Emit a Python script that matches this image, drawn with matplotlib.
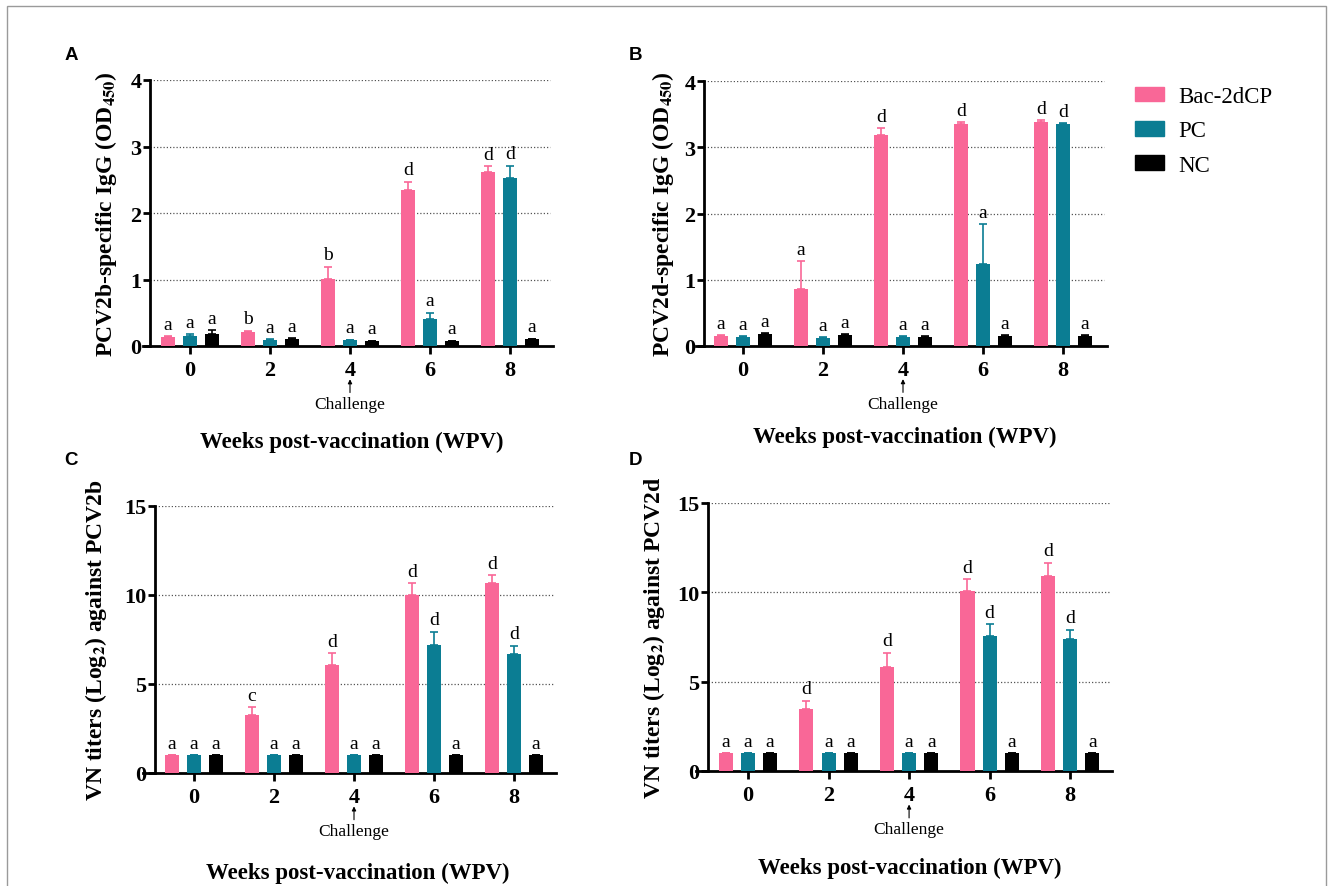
# ---- Antibody responses after vaccination: IgG (OD450) and VN titers
import numpy as np
import matplotlib
matplotlib.use("Agg")
import matplotlib.pyplot as plt
import matplotlib.transforms as mtransforms
from matplotlib.patches import Patch, Rectangle


# ---- Data
weeks = ["0", "2", "4", "6", "8"]
groups = ["Bac-2dCP", "PC", "NC"]

# rows: Bac-2dCP, PC, NC
igg2b_mean = [[0.13, 0.21, 1.01, 2.35, 2.62],
              [0.145, 0.09, 0.09, 0.405, 2.53],
              [0.18, 0.10, 0.07, 0.07, 0.10]]
igg2b_err = [[0.02, 0.02, 0.18, 0.12, 0.08],
             [0.035, 0.01, 0.005, 0.095, 0.18],
             [0.06, 0.02, 0.01, 0.01, 0.01]]
igg2b_letters = ["abbdd", "aaaad", "aaaaa"]

igg2d_mean = [[0.15, 0.86, 3.18, 3.355, 3.38],
              [0.135, 0.12, 0.14, 1.235, 3.345],
              [0.185, 0.17, 0.135, 0.15, 0.15]]
igg2d_err = [[0.01, 0.42, 0.11, 0.02, 0.025],
             [0.01, 0.01, 0.01, 0.60, 0.02],
             [0.01, 0.01, 0.01, 0.01, 0.01]]
igg2d_letters = ["aaddd", "aaaad", "aaaaa"]

vn2b_mean = [[1.0, 3.26, 6.08, 10.0, 10.66],
             [1.0, 1.0, 1.0, 7.21, 6.69],
             [1.0, 1.0, 1.0, 1.0, 1.0]]
vn2b_err = [[0.0, 0.43, 0.64, 0.67, 0.46],
            [0.0, 0.0, 0.0, 0.73, 0.46],
            [0.0, 0.0, 0.0, 0.0, 0.0]]
vn2b_letters = ["acddd", "aaadd", "aaaaa"]

vn2d_mean = [[1.0, 3.47, 5.84, 10.06, 10.91],
             [1.0, 1.0, 1.0, 7.55, 7.39],
             [1.0, 1.0, 1.0, 1.0, 1.0]]
vn2d_err = [[0.0, 0.46, 0.77, 0.67, 0.75],
            [0.0, 0.0, 0.0, 0.67, 0.52],
            [0.0, 0.0, 0.0, 0.0, 0.0]]
vn2d_letters = ["adddd", "aaadd", "aaaaa"]

colors = ["#F96797", "#0B7D93", "#000000"]


# ---- Fonts
plt.rcParams["font.family"] = ["Liberation Serif", "DejaVu Serif"]
plt.rcParams["mathtext.fontset"] = "stix"

W, H = 1331, 887
fig = plt.figure(figsize=(W / 100, H / 100), dpi=100)


def px_axes(x0, x1, y_top, y_bot):
    # axes box given in pixels of the final image
    return fig.add_axes([x0 / W, 1 - y_bot / H, (x1 - x0) / W, (y_bot - y_top) / H])


def draw_panel(ax, means, errs, letters, ymax, ystep, xlim, spine_frac,
               ylabel, ylab_x, xlab_pos):
    # spine position first: moving a spine resets the tick objects
    for side in ["top", "right"]:
        ax.spines[side].set_visible(False)
    ax.spines["left"].set_position(("axes", spine_frac))
    for side in ["left", "bottom"]:
        ax.spines[side].set_linewidth(2)

    x = np.arange(len(weeks))
    offsets = [-0.275, 0.0, 0.275]
    for i in range(3):
        xs = x + offsets[i]
        ax.bar(xs, means[i], width=0.175, color=colors[i], zorder=3)
        ax.errorbar(xs, means[i], yerr=[np.zeros(len(x)), errs[i]], fmt="none",
                    ecolor=colors[i], elinewidth=1.2, capsize=3, capthick=1.2,
                    zorder=2.5)
        for xx, m, e, s in zip(xs, means[i], errs[i], letters[i]):
            ax.annotate(s, (xx, m + e), xytext=(0, 2.5), textcoords="offset points",
                        ha="center", va="bottom", fontsize=14)

    # dotted grid lines, starting at the y axis
    yticks = np.arange(0, ymax + ystep / 2, ystep)
    for yy in yticks[1:]:
        ax.axhline(yy, xmin=spine_frac, xmax=0.993, ls=(0, (1, 1.6)), lw=0.9,
                   color="#555555", zorder=1)

    ax.set_xlim(*xlim)
    ax.set_ylim(0, ymax)
    ax.set_xticks(x, weeks, fontweight="bold", fontsize=16)
    ax.set_yticks(yticks, [f"{int(t)}" for t in yticks], fontweight="bold", fontsize=16)
    ax.tick_params(axis="x", length=6, width=2, pad=4)
    ax.tick_params(axis="y", length=5, width=2, pad=1)

    ax.set_ylabel(ylabel, fontsize=17, fontweight="bold", va="center")
    ax.yaxis.set_label_coords(ylab_x, 0.5)
    ax.set_xlabel("Weeks post-vaccination (WPV)", fontsize=16.5, fontweight="bold",
                  va="center")
    ax.xaxis.set_label_coords(*xlab_pos)

    # challenge marker under week 4
    trans = mtransforms.blended_transform_factory(ax.transData, ax.transAxes)
    ax.annotate("", xy=(2, -0.125), xytext=(2, -0.175), xycoords=trans,
                textcoords=trans,
                arrowprops=dict(arrowstyle="-|>", lw=0.8, color="black",
                                mutation_scale=6, shrinkA=0, shrinkB=0))
    ax.text(2, -0.218, "Challenge", transform=trans, ha="center", va="center",
            fontsize=12.5)


# ---- Panel A
ax_a = px_axes(143, 553, 81, 347)
draw_panel(ax_a, igg2b_mean, igg2b_err, igg2b_letters, 4, 1, (-0.5875, 4.5375),
           0.017, "PCV2b-specific IgG (OD$_{\\mathbf{450}}$)", -0.09, (0.51, -0.357))

# ---- Panel B
ax_b = px_axes(696, 1107, 82, 347)
draw_panel(ax_b, igg2d_mean, igg2d_err, igg2d_letters, 4, 1, (-0.5875, 4.55),
           0.0195, "PCV2d-specific IgG (OD$_{\\mathbf{450}}$)", -0.08, (0.508, -0.34))

# ---- Panel C
ax_c = px_axes(143, 556, 507, 774)
draw_panel(ax_c, vn2b_mean, vn2b_err, vn2b_letters, 15, 5, (-0.6375, 4.525),
           0.029, "VN titers (Log$_{\\mathbf{2}}$) against PCV2b", -0.1126, (0.52, -0.371))

# ---- Panel D
ax_d = px_axes(696, 1112, 504, 772)
draw_panel(ax_d, vn2d_mean, vn2d_err, vn2d_letters, 15, 5, (-0.646, 4.52),
           0.0288, "VN titers (Log$_{\\mathbf{2}}$) against PCV2d", -0.101, (0.514, -0.358))

# ---- Legend
handles = [Patch(color=c) for c in colors]
fig.legend(handles, groups, loc="upper left", bbox_to_anchor=(1135 / W, 1 - 87 / H),
           frameon=False, fontsize=16.5, handlelength=1.25, handleheight=0.62,
           handletextpad=0.65, labelspacing=0.58, borderpad=0, borderaxespad=0)

# ---- Panel letters
for lab, (px, py) in zip("ABCD", [(71, 56), (635, 56), (71, 461), (635, 461)]):
    fig.text(px / W, 1 - py / H, lab, ha="center", va="center", fontsize=13.5,
             fontweight="bold", family="Liberation Sans")

# ---- Outer frame
fig.add_artist(Rectangle((7 / W, -0.01), (1326 - 7) / W, 1 - 7 / H + 0.01,
                         transform=fig.transFigure, fill=False,
                         edgecolor="#9a9a9a", lw=1))

fig.savefig("out.png", dpi=100)
